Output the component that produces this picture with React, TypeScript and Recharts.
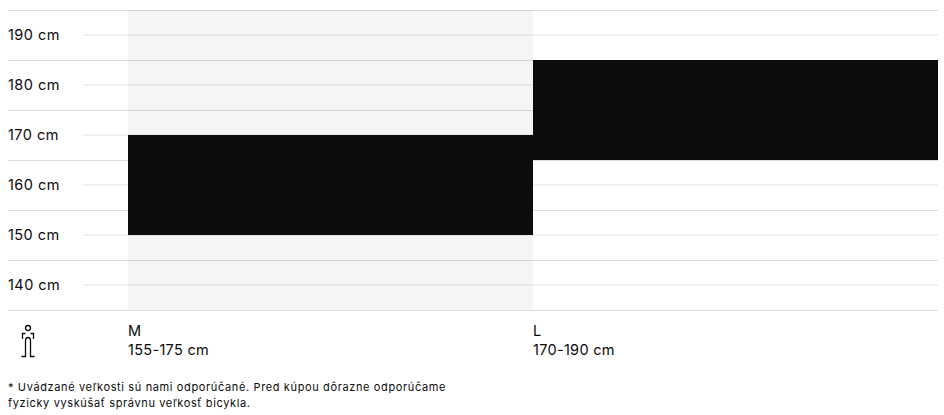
import { ComposedChart, Bar, XAxis, YAxis, CartesianGrid, ReferenceArea } from "recharts";

const SIZES = ["M", "L"];
const SIZE_RANGES = ["155-175 cm", "170-190 cm"];
const LOW = [150, 165];
const HIGH = [170, 185];
const HEIGHT_TICKS = [140, 150, 160, 170, 180, 190];
const GRID_VALUES = [135, 140, 145, 150, 155, 160, 165, 170, 175, 180, 185, 190, 195];
const HIGHLIGHTED = "M";
const FOOTNOTE = [
  "* Uvádzané veľkosti sú nami odporúčané. Pred kúpou dôrazne odporúčame",
  "fyzicky vyskúšať správnu veľkosť bicykla.",
];

const FONT = "Inter, sans-serif";
const INK = "#0c0c0c";

const data = SIZES.map((size, i) => ({ size, range: [LOW[i], HIGH[i]] }));

function GridLine(props: any) {
  const { x1, x2, y1, index } = props;
  // every other value is a labelled height and starts right of its label
  if (index % 2 === 1) {
    return <line x1={x1 + 75} x2={x2} y1={y1} y2={y1} stroke="#000" strokeOpacity={0.06} strokeWidth={2} />;
  }
  return <line x1={x1} x2={x2} y1={y1 + 0.5} y2={y1 + 0.5} stroke="#dcdcdc" strokeWidth={1} />;
}

function HeightTick({ y, payload }: any) {
  return (
    <text x={8} y={y + 5} fill={INK} fontSize={14.5} fontFamily={FONT} letterSpacing={0.45}>
      {payload.value} cm
    </text>
  );
}

function SizeTick({ x, y, payload, index }: any) {
  const left = x - (payload.offset ?? 0);
  return (
    <text fill={INK} fontSize={14.5} fontFamily={FONT} letterSpacing={0.3}>
      <tspan x={left} y={y + 20}>{payload.value}</tspan>
      <tspan x={left} y={y + 39}>{SIZE_RANGES[index]}</tspan>
    </text>
  );
}

function PersonIcon() {
  return (
    <svg width={30} height={40} style={{ position: "absolute", left: 14, top: 320 }} fill="none" stroke={INK} strokeWidth={1.3}>
      <circle cx={14} cy={8} r={2.5} />
      <path d="M8.5 19 V13.5 H11.5 M16.5 13.5 H19.5 V19" />
      <path d="M7.5 36.5 H11.5 V21 Q11.5 17.5 14 17.5 Q16.5 17.5 16.5 21 V36.5 H20.5" />
    </svg>
  );
}

export default function App() {
  return (
    <div style={{ position: "absolute", left: 0, top: 0, width: 944, height: 415, background: "#fff" }}>
      <ComposedChart
        width={944}
        height={415}
        data={data}
        margin={{ top: 10, right: 6, bottom: 45, left: 7 }}
        barCategoryGap={0}
        barGap={0}
      >
        <CartesianGrid vertical={false} horizontalValues={GRID_VALUES} horizontal={(p: any) => <GridLine key={p.index} {...p} />} />
        <ReferenceArea x1={HIGHLIGHTED} x2={HIGHLIGHTED} y1={135} y2={195} fill="#000" fillOpacity={0.04} stroke="none" />
        <XAxis
          dataKey="size"
          height={60}
          padding={{ left: 120, right: 0 }}
          axisLine={false}
          tickLine={false}
          interval={0}
          tickMargin={0}
          tick={<SizeTick />}
        />
        <YAxis
          type="number"
          width={1}
          domain={[135, 195]}
          ticks={HEIGHT_TICKS}
          axisLine={false}
          tickLine={false}
          interval={0}
          tick={<HeightTick />}
        />
        <Bar dataKey="range" fill={INK} isAnimationActive={false} />
      </ComposedChart>
      <PersonIcon />
      <div style={{ position: "absolute", left: 8, top: 379, fontFamily: FONT, fontSize: 11, lineHeight: "16px", letterSpacing: 0.63, color: INK, whiteSpace: "nowrap" }}>
        {FOOTNOTE.map((line) => (
          <div key={line}>{line}</div>
        ))}
      </div>
    </div>
  );
}
